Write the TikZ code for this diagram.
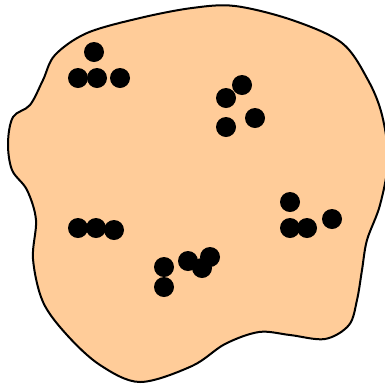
\documentclass[tikz,border=0pt]{standalone}
\definecolor{peach}{HTML}{FFCC99}
\tikzset{dot/.style={circle,fill=black,inner sep=0pt,minimum size=20pt}}
\begin{document}
\begin{tikzpicture}[x=1pt,y=-1pt]
\useasboundingbox (0,0) rectangle (385,384);
\draw[line width=2pt,fill=peach] plot[smooth cycle,tension=0.55] coordinates {
(87,33) (140,18) (192,8) (235,6) (292,20) (342,43) (368,80) (382,115) (388,160) (380,205) (367,240) (362,270) (357,300) (349,325) (325,339) (290,335) (259,332) (225,344) (192,366) (140,382) (100,365) (67,335) (43,302) (33,259) (36,220) (27,190) (12,170) (8,143) (13,117) (30,105) (43,80) (55,55)};
% cluster 1
\node[dot] (a1) at (94,52) {};
\node[dot] (a2) at (78,78) {};
\node[dot] (a3) at (97,78) {};
\node[dot] (a4) at (120,78) {};
% cluster 2
\node[dot] (b1) at (242,85) {};
\node[dot] (b2) at (226,98) {};
\node[dot] (b3) at (226,127) {};
\node[dot] (b4) at (255,118) {};
% cluster 3
\node[dot] (c1) at (78,228) {};
\node[dot] (c2) at (96,228) {};
\node[dot] (c3) at (114,230) {};
% cluster 4
\node[dot] (d1) at (164,267) {};
\node[dot] (d2) at (164,287) {};
\node[dot] (d3) at (188,261) {};
\node[dot] (d4) at (202,268) {};
\node[dot] (d5) at (210,257) {};
% cluster 5
\node[dot] (e1) at (290,202) {};
\node[dot] (e2) at (290,228) {};
\node[dot] (e3) at (307,228) {};
\node[dot] (e4) at (332,219) {};
\end{tikzpicture}
\end{document}
